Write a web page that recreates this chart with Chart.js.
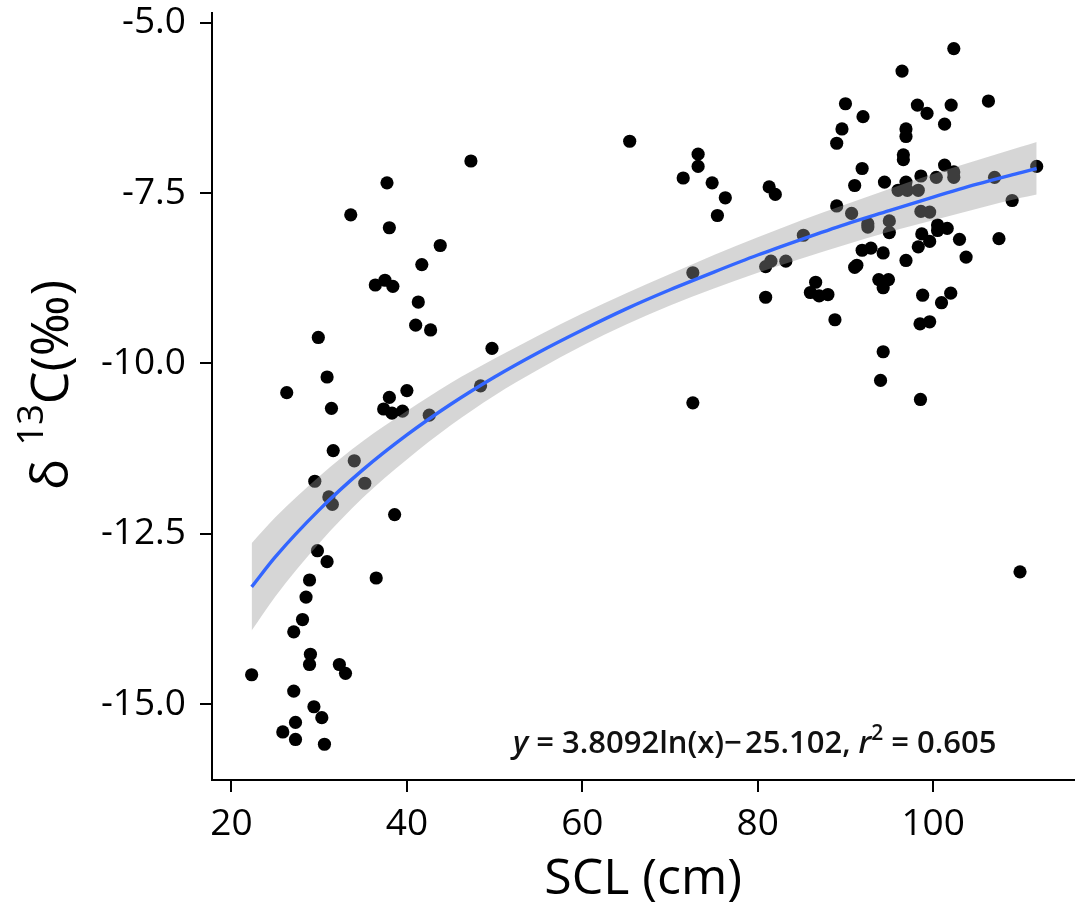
<!DOCTYPE html>
<html>
<head>
<meta charset="utf-8">
<script src="https://cdn.jsdelivr.net/npm/chart.js@4.4.0/dist/chart.umd.min.js"></script>
<style>
  html, body { margin: 0; padding: 0; background: #ffffff; }
  #wrap { width: 1081px; height: 909px; }
</style>
</head>
<body>
<div id="wrap"><canvas id="c" width="1081" height="909"></canvas></div>
<script>
// ---- data ----
const sclValues = [
  22.3, 25.85, 26.3, 27.1, 27.1, 27.3, 27.3, 28.1, 28.5, 28.9,
  28.9, 29.0, 29.4, 29.5, 29.8, 29.9, 30.3, 30.6, 30.9, 30.9,
  31.1, 31.4, 31.5, 31.6, 32.3, 33.0, 33.6, 34.0, 35.2, 36.4,
  36.5, 37.35, 37.5, 37.73, 38.0, 38.0, 38.3, 38.4, 38.6, 39.5,
  40.0, 41.0, 41.3, 41.7, 42.55, 42.7, 43.8, 47.3, 48.4, 49.7,
  65.4, 71.5, 72.6, 72.6, 73.2, 73.2, 74.8, 75.4, 76.3, 80.9,
  81.5, 80.9, 81.3, 82.0, 83.2, 85.2, 86.0, 86.6, 87.0, 88.0,
  88.8, 89.0, 89.0, 89.6, 90.0, 90.7, 91.05, 91.05, 91.3, 91.9,
  91.9, 92.0, 92.55, 92.55, 92.9, 93.8, 94.0, 94.3, 94.3, 94.3,
  94.45, 94.9, 95.0, 95.0, 96.0, 96.45, 96.6, 96.6, 96.9, 96.9,
  96.9, 96.9, 97.05, 98.2, 98.3, 98.3, 98.5, 98.55, 98.6, 98.6,
  98.7, 98.8, 99.3, 99.6, 99.6, 99.6, 100.35, 100.5, 100.5, 100.95,
  101.3, 101.3, 101.6, 102.05, 102.0, 102.35, 102.35, 102.35, 103.0, 103.75,
  106.3, 107.0, 107.5, 109.0, 109.9, 111.8
];
const d13cValues = [
  -14.57, -15.41, -10.43, -13.94, -14.81, -15.27, -15.52, -13.76, -13.43, -13.18,
  -14.42, -14.27, -15.04, -11.73, -12.75, -9.62, -15.20, -15.59, -10.20, -12.91,
  -11.96, -10.66, -12.07, -11.28, -14.42, -14.55, -7.82, -11.43, -11.76, -8.85,
  -13.15, -10.67, -8.78, -7.35, -8.01, -10.50, -10.73, -8.87, -12.22, -10.70,
  -10.40, -9.44, -9.10, -8.55, -10.76, -9.51, -8.27, -7.03, -10.33, -9.78,
  -6.74, -7.28, -8.67, -10.58, -6.93, -7.11, -7.35, -7.83, -7.57, -8.58,
  -8.50, -9.03, -7.41, -7.52, -8.50, -8.12, -8.96, -8.81, -9.01, -8.99,
  -9.36, -6.77, -7.69, -6.56, -6.19, -7.80, -7.39, -8.59, -8.56, -7.14,
  -8.34, -6.38, -7.95, -8.00, -8.31, -8.77, -10.25, -8.38, -8.89, -9.83,
  -7.34, -8.77, -7.91, -8.08, -7.46, -5.71, -6.94, -7.01, -6.56, -6.67,
  -7.34, -8.49, -7.46, -6.21, -7.46, -8.29, -9.42, -10.53, -7.25, -7.77,
  -8.10, -9.00, -6.33, -7.78, -8.21, -9.39, -7.27, -7.97, -8.05, -9.11,
  -6.49, -7.09, -8.02, -6.21, -8.97, -5.38, -7.19, -7.27, -8.18, -8.44,
  -6.15, -7.27, -8.17, -7.61, -13.06, -7.11
];
// fitted curve and its confidence band
const fitX =     [22.3, 25, 30, 35, 40, 45, 50, 55, 60, 65, 70, 75, 80, 85, 90, 95, 100, 105, 110, 111.8];
const fitY =     [-13.28, -12.84, -12.15, -11.56, -11.05, -10.60, -10.20, -9.84, -9.51, -9.20, -8.92, -8.66, -8.41, -8.18, -7.96, -7.76, -7.56, -7.37, -7.20, -7.14];
const bandUpper = [-12.64, -12.26, -11.66, -11.14, -10.70, -10.29, -9.93, -9.59, -9.27, -8.97, -8.69, -8.41, -8.15, -7.90, -7.67, -7.44, -7.22, -7.02, -6.82, -6.75];
const bandLower = [-13.92, -13.42, -12.64, -11.97, -11.41, -10.91, -10.47, -10.09, -9.74, -9.43, -9.15, -8.90, -8.67, -8.46, -8.26, -8.07, -7.90, -7.73, -7.57, -7.52];
const xTickValues = [20, 40, 60, 80, 100];
const yTickValues = [-15.0, -12.5, -10.0, -7.5, -5.0];
const xTitle = 'SCL (cm)';
const annotation = { eqLeft: 'y', eqMid: ' = 3.8092ln(x)\u2212\u200A25.102, ', rLetter: 'r', rSup: '2', eqEnd: ' = 0.605' };

const pts = sclValues.map((x, i) => ({ x: x, y: d13cValues[i] }));
const toXY = (ys) => fitX.map((x, i) => ({ x: x, y: ys[i] }));

const FONT = '"Open Sans", "Noto Sans", sans-serif';
Chart.defaults.font.family = FONT;
Chart.defaults.color = '#000';

// target plot-panel box (pixels)
const AREA = { left: 212, right: 1081, top: 13, bottom: 780 };

const overlay = {
  id: 'overlay',
  afterDraw(chart) {
    const ctx = chart.ctx;
    const a = chart.chartArea;
    ctx.save();
    ctx.fillStyle = '#000';
    // x title
    ctx.font = '50px ' + FONT;
    ctx.textAlign = 'center';
    ctx.textBaseline = 'middle';
    ctx.fillText(xTitle, (a.left + a.right) / 2, 880);
    // y title (rotated): δ 13C(‰)
    ctx.textAlign = 'left';
    ctx.textBaseline = 'alphabetic';
    const big = '52px ' + FONT, small = '36px ' + FONT;
    ctx.font = big; const w1 = ctx.measureText('\u03B4 ').width; const w3 = ctx.measureText('C(\u2030)').width;
    ctx.font = small; const w2 = ctx.measureText('13').width;
    const total = w1 + w2 + w3;
    ctx.translate(68, 385 + total / 2);
    ctx.rotate(-Math.PI / 2);
    ctx.font = big; ctx.fillText('\u03B4 ', 0, 0);
    ctx.font = small; ctx.fillText('13', w1, -25);
    ctx.font = big; ctx.fillText('C(\u2030)', w1 + w2, 0);
    ctx.setTransform(1, 0, 0, 1, 0, 0);
    // regression annotation
    let x = 513; const base = 753;
    const reg = '600 31px ' + FONT, it = 'italic 600 31px ' + FONT, sup = '600 21px ' + FONT;
    ctx.fillStyle = '#111';
    ctx.font = it; ctx.fillText(annotation.eqLeft, x, base); x += ctx.measureText(annotation.eqLeft).width;
    ctx.font = reg; ctx.fillText(annotation.eqMid, x, base); x += ctx.measureText(annotation.eqMid).width;
    ctx.font = it; ctx.fillText(annotation.rLetter, x, base); x += ctx.measureText(annotation.rLetter).width;
    ctx.font = sup; ctx.fillText(annotation.rSup, x, base - 13); x += ctx.measureText(annotation.rSup).width;
    ctx.font = reg; ctx.fillText(annotation.eqEnd, x, base);
    ctx.restore();
  }
};

const pad = { top: AREA.top, left: 0, right: 0, bottom: 0 };

const chart = new Chart(document.getElementById('c'), {
  type: 'scatter',
  data: {
    datasets: [
      { label: 'fit', data: toXY(fitY), showLine: true, borderColor: '#3366FF', borderWidth: 3.4,
        pointRadius: 0, fill: false, tension: 0.4, cubicInterpolationMode: 'monotone', order: 0 },
      { label: 'upper', data: toXY(bandUpper), showLine: true, borderWidth: 0, borderColor: 'rgba(0,0,0,0)',
        backgroundColor: 'rgba(153,153,153,0.4)', pointRadius: 0, fill: '+1', tension: 0.4, cubicInterpolationMode: 'monotone', order: 1 },
      { label: 'lower', data: toXY(bandLower), showLine: true, borderWidth: 0, borderColor: 'rgba(0,0,0,0)',
        pointRadius: 0, fill: false, tension: 0.4, cubicInterpolationMode: 'monotone', order: 1 },
      { label: 'points', data: pts, pointRadius: 6.6, pointBackgroundColor: '#000', pointBorderWidth: 0,
        showLine: false, order: 2 }
    ]
  },
  options: {
    responsive: false,
    devicePixelRatio: 1,
    animation: false,
    events: [],
    layout: { padding: pad },
    plugins: { legend: { display: false }, tooltip: { enabled: false }, title: { display: false } },
    scales: {
      x: {
        type: 'linear', position: 'bottom', min: 17.78, max: 116.1,
        afterBuildTicks: (s) => { s.ticks = xTickValues.map(v => ({ value: v })); },
        afterFit: (s) => { s.height = 129; s.paddingLeft = 0; s.paddingRight = 0; s.paddingTop = 0; s.paddingBottom = 0; },
        ticks: { font: { size: 37 }, color: '#000', padding: 10, maxRotation: 0, autoSkip: false,
                 callback: (v) => String(v) },
        grid: { display: true, drawOnChartArea: false, drawTicks: true, tickLength: 12, color: '#000', lineWidth: 2 },
        border: { display: true, color: '#000', width: 2 },
        title: { display: false }
      },
      y: {
        type: 'linear', position: 'left', min: -16.115, max: -4.858,
        afterBuildTicks: (s) => { s.ticks = yTickValues.map(v => ({ value: v })); },
        afterFit: (s) => { s.width = 212; s.paddingLeft = 0; s.paddingRight = 0; s.paddingTop = 0; s.paddingBottom = 0; },
        ticks: { font: { size: 37 }, color: '#000', padding: 14, autoSkip: false,
                 callback: (v) => Number(v).toFixed(1) },
        grid: { display: true, drawOnChartArea: false, drawTicks: true, tickLength: 12, color: '#000', lineWidth: 2 },
        border: { display: true, color: '#000', width: 2 },
        title: { display: false }
      }
    }
  },
  plugins: [overlay]
});

// nudge layout padding so the plot panel lands on the target box
for (let k = 0; k < 3; k++) {
  const ca = chart.chartArea;
  const dl = AREA.left - ca.left, dr = ca.right - AREA.right, dt = AREA.top - ca.top, db = ca.bottom - AREA.bottom;
  if (Math.abs(dl) + Math.abs(dr) + Math.abs(dt) + Math.abs(db) < 0.5) break;
  pad.left += dl; pad.right += dr; pad.top += dt; pad.bottom += db;
  chart.options.layout.padding = Object.assign({}, pad);
  chart.update();
}
</script>
</body>
</html>
